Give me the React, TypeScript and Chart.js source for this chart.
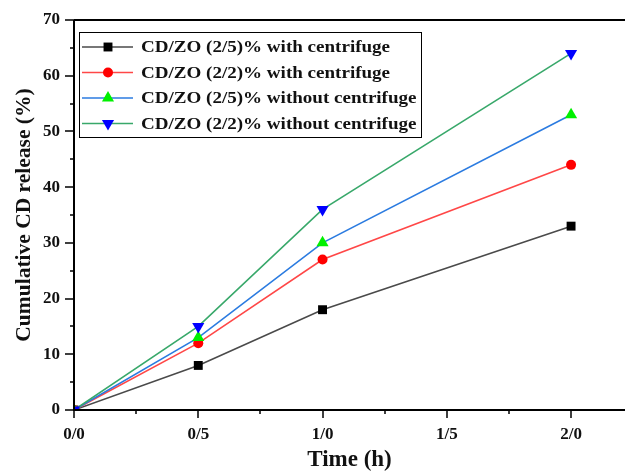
import React, { useEffect, useRef } from 'react';
import { Chart, registerables } from 'chart.js';
import { drawPoint } from 'chart.js/helpers';

Chart.register(...registerables);

const timeHours = [0, 0.5, 1.0, 2.0];
const seriesLabels = [
  'CD/ZO (2/5)% with centrifuge',
  'CD/ZO (2/2)% with centrifuge',
  'CD/ZO (2/5)% without centrifuge',
  'CD/ZO (2/2)% without centrifuge',
];
const cdZo25With = [0, 8, 18, 33];
const cdZo22With = [0, 12, 27, 44];
const cdZo25Without = [0, 13, 30, 53];
const cdZo22Without = [0, 15, 36, 64];

const xMajorTicks = [0, 0.5, 1.0, 1.5, 2.0];
const xMinorTicks = [0.25, 0.75, 1.25, 1.75];
const xTickLabels = ['0/0', '0/5', '1/0', '1/5', '2/0'];
const yMajorTicks = [0, 10, 20, 30, 40, 50, 60, 70];
const yMinorTicks = [5, 15, 25, 35, 45, 55, 65];

const lineColors = ['#4a4a4a', '#ff4747', '#2b7be0', '#38a86a'];
const markerColors = ['#000000', '#ff0000', '#00f000', '#0000ff'];
const markerStyles = ['rect', 'circle', 'triangle', 'triangle'];
const markerRotations = [0, 0, 0, 180];
const markerRadii = [6.3, 5, 7, 7];

const FONT = "'Liberation Serif', 'Times New Roman', serif";

const framePlugin = {
  id: 'frame',
  afterDraw(chart: any) {
    const { ctx, chartArea: a, scales } = chart;
    const xs = scales.x;
    const ys = scales.y;
    ctx.save();
    ctx.strokeStyle = '#000';
    ctx.lineWidth = 2;
    ctx.beginPath();
    ctx.moveTo(a.left, a.top);
    ctx.lineTo(a.left, a.bottom + 1);
    ctx.moveTo(a.left - 1, a.bottom);
    ctx.lineTo(a.right, a.bottom);
    ctx.moveTo(a.left, a.top);
    ctx.lineTo(a.right, a.top);
    ctx.stroke();

    ctx.lineWidth = 1.5;
    ctx.beginPath();
    yMajorTicks.forEach((v) => {
      const py = Math.round(ys.getPixelForValue(v));
      ctx.moveTo(a.left - 9, py);
      ctx.lineTo(a.left, py);
    });
    yMinorTicks.forEach((v) => {
      const py = Math.round(ys.getPixelForValue(v));
      ctx.moveTo(a.left - 4, py);
      ctx.lineTo(a.left, py);
    });
    xMajorTicks.forEach((v) => {
      const px = Math.round(xs.getPixelForValue(v));
      ctx.moveTo(px, a.bottom);
      ctx.lineTo(px, a.bottom + 8);
    });
    xMinorTicks.forEach((v) => {
      const px = Math.round(xs.getPixelForValue(v));
      ctx.moveTo(px, a.bottom);
      ctx.lineTo(px, a.bottom + 4);
    });
    ctx.stroke();

    // legend
    const bx = a.left + 5;
    const by = a.top + 12;
    const bw = 342;
    const bh = 105;
    ctx.fillStyle = '#fff';
    ctx.fillRect(bx, by, bw, bh);
    ctx.lineWidth = 1;
    ctx.strokeStyle = '#000';
    ctx.strokeRect(bx + 0.5, by + 0.5, bw, bh);
    ctx.font = `bold 16px ${FONT}`;
    ctx.textBaseline = 'middle';
    ctx.textAlign = 'left';
    chart.data.datasets.forEach((ds: any, i: number) => {
      const ry = by + 15 + i * 25.5;
      ctx.strokeStyle = lineColors[i];
      ctx.lineWidth = 1.5;
      ctx.beginPath();
      ctx.moveTo(bx + 3, ry);
      ctx.lineTo(bx + 54, ry);
      ctx.stroke();
      ctx.fillStyle = markerColors[i];
      ctx.strokeStyle = markerColors[i];
      drawPoint(ctx, {
        pointStyle: markerStyles[i],
        radius: markerRadii[i],
        rotation: markerRotations[i],
        borderWidth: 0,
      } as any, bx + 29, ry);
      ctx.fillStyle = '#111';
      ctx.save();
      ctx.translate(bx + 62, ry + 1);
      ctx.scale(1.19, 1);
      ctx.fillText(ds.label, 0, 0);
      ctx.restore();
    });
    ctx.restore();
  },
};

export default function App() {
  const canvasRef = useRef<HTMLCanvasElement>(null);

  useEffect(() => {
    if (!canvasRef.current) return;
    const series = [cdZo25With, cdZo22With, cdZo25Without, cdZo22Without];
    const chart = new Chart(canvasRef.current, {
      type: 'line',
      data: {
        datasets: series.map((vals, i) => ({
          label: seriesLabels[i],
          data: vals.map((v, j) => ({ x: timeHours[j], y: v })),
          borderColor: lineColors[i],
          borderWidth: 1.6,
          backgroundColor: markerColors[i],
          pointBackgroundColor: markerColors[i],
          pointBorderColor: markerColors[i],
          pointBorderWidth: 0,
          pointStyle: markerStyles[i] as any,
          pointRotation: markerRotations[i],
          pointRadius: markerRadii[i],
          pointHoverRadius: markerRadii[i],
          tension: 0,
          fill: false,
          order: 4 - i,
        })),
      },
      options: {
        animation: false,
        responsive: false,
        events: [],
        layout: { autoPadding: false, padding: { top: 20, right: 0, left: 0, bottom: 0 } },
        plugins: {
          legend: { display: false },
          tooltip: { enabled: false },
        },
        scales: {
          x: {
            type: 'linear',
            min: 0,
            max: 2.217,
            afterFit: (s: any) => {
              s.height = 62;
            },
            grid: {
              display: true,
              drawOnChartArea: false,
              drawTicks: true,
              tickLength: 11,
              color: 'rgba(0,0,0,0)',
            },
            border: { display: false },
            ticks: {
              stepSize: 0.5,
              includeBounds: false,
              autoSkip: false,
              maxRotation: 0,
              padding: 3,
              color: '#111',
              font: { family: FONT, weight: 'bold', size: 17 },
              callback: (v: any) => {
                const k = xMajorTicks.findIndex((t) => Math.abs(t - Number(v)) < 1e-6);
                return k >= 0 ? xTickLabels[k] : '';
              },
            },
            title: {
              display: true,
              text: 'Time (h)',
              color: '#111',
              font: { family: FONT, weight: 'bold', size: 23, lineHeight: 1 },
              padding: { top: 0, bottom: 0 },
            },
          },
          y: {
            type: 'linear',
            min: 0,
            max: 70,
            afterFit: (s: any) => {
              s.width = 74;
            },
            grid: {
              display: true,
              drawOnChartArea: false,
              drawTicks: true,
              tickLength: 11,
              color: 'rgba(0,0,0,0)',
            },
            border: { display: false },
            ticks: {
              stepSize: 10,
              padding: 3,
              color: '#111',
              font: { family: FONT, weight: 'bold', size: 17 },
            },
            title: {
              display: true,
              text: 'Cumulative CD release (%)',
              color: '#111',
              font: { family: FONT, weight: 'bold', size: 21.5, lineHeight: 1 },
              padding: { top: 14, bottom: 0 },
            },
          },
        },
      },
      plugins: [framePlugin],
    });
    return () => chart.destroy();
  }, []);

  return (
    <div style={{ position: 'fixed', left: 0, top: 0, width: 625, height: 472, background: '#fff' }}>
      <canvas ref={canvasRef} width={625} height={472} style={{ display: 'block' }} />
    </div>
  );
}
